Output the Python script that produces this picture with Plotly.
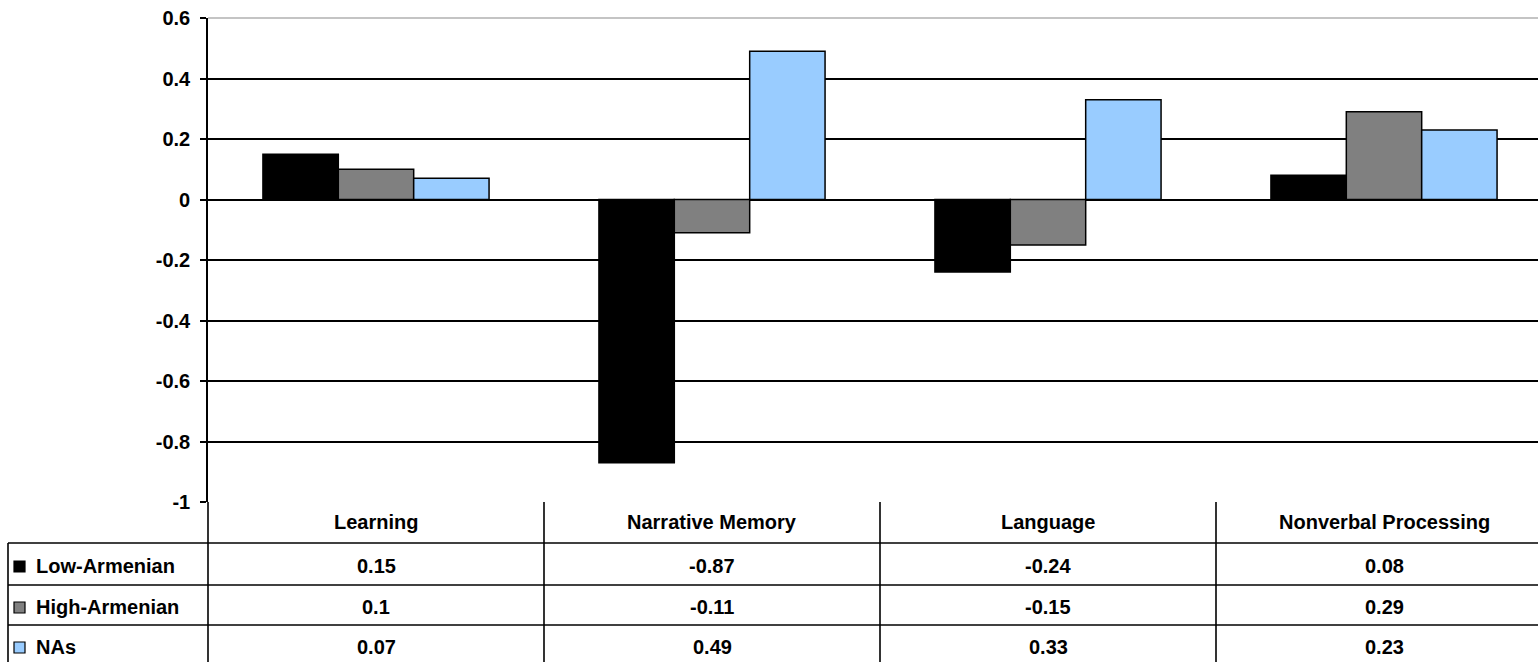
import plotly.graph_objects as go

# Chart data
categories = ["Learning", "Narrative Memory", "Language", "Nonverbal Processing"]
series_names = ["Low-Armenian", "High-Armenian", "NAs"]
low_armenian = [0.15, -0.87, -0.24, 0.08]
high_armenian = [0.1, -0.11, -0.15, 0.29]
nas = [0.07, 0.49, 0.33, 0.23]
series_colors = ["#000000", "#808080", "#99CCFF"]
y_ticks = [0.6, 0.4, 0.2, 0, -0.2, -0.4, -0.6, -0.8, -1]
y_tick_labels = ["0.6", "0.4", "0.2", "0", "-0.2", "-0.4", "-0.6", "-0.8", "-1"]

series_values = [low_armenian, high_armenian, nas]

W, H = 1538, 662
ML, MT, MB = 208, 18, 160
PW = W - ML
PH = H - MT - MB
FONT = "Liberation Sans, Arial, sans-serif"
LW = 1.6


def fx(px):
    return (px - ML) / PW


def fy(py):
    return (H - MB - py) / PH


fig = go.Figure()
for name, vals, col in zip(series_names, series_values, series_colors):
    fig.add_trace(go.Bar(
        x=categories, y=vals, name=name,
        marker=dict(color=col, line=dict(color="#000000", width=1.5)),
        showlegend=False, hoverinfo="skip",
    ))

shapes = []
# light top border of the plot area
shapes.append(dict(type="line", xref="paper", yref="paper", x0=0, x1=1, y0=1, y1=1,
                   line=dict(color="#ffffff", width=3), layer="below"))
shapes.append(dict(type="line", xref="paper", yref="paper", x0=0, x1=1, y0=fy(18), y1=fy(18),
                   line=dict(color="#c4c4c4", width=1.8), layer="below"))

# data table grid
row_lines = [543, 585, 625]
for py in row_lines:
    shapes.append(dict(type="line", xref="paper", yref="paper", x0=fx(8), x1=fx(1560),
                       y0=fy(py), y1=fy(py), line=dict(color="#000000", width=LW)))
shapes.append(dict(type="line", xref="paper", yref="paper", x0=fx(8), x1=fx(8),
                   y0=fy(543), y1=fy(680), line=dict(color="#000000", width=LW)))
shapes.append(dict(type="line", xref="paper", yref="paper", x0=0, x1=0,
                   y0=0, y1=fy(680), line=dict(color="#000000", width=LW)))
col_w = 336
for k in range(1, len(categories)):
    xp = ML + k * col_w
    shapes.append(dict(type="line", xref="paper", yref="paper", x0=fx(xp), x1=fx(xp),
                       y0=0, y1=fy(680), line=dict(color="#000000", width=LW)))

row_text_y = [566, 607, 647]
# legend keys in the table's first column
for col, py in zip(series_colors, row_text_y):
    shapes.append(dict(type="rect", xref="paper", yref="paper",
                       x0=fx(14), x1=fx(25), y0=fy(py - 5), y1=fy(py + 6),
                       fillcolor=col, line=dict(color="#000000", width=1.2)))

annotations = []
tfont = dict(family=FONT, size=20, color="#000000", weight="bold")
for cat in categories:
    annotations.append(dict(x=cat, xref="x", y=fy(522), yref="paper", text=cat,
                            showarrow=False, xanchor="center", yanchor="middle", font=tfont))
for name, vals, py in zip(series_names, series_values, row_text_y):
    annotations.append(dict(x=fx(34), xref="paper", y=fy(py), yref="paper", text=name,
                            showarrow=False, xanchor="left", yanchor="middle", font=tfont))
    for cat, v in zip(categories, vals):
        annotations.append(dict(x=cat, xref="x", y=fy(py), yref="paper", text=str(v),
                                showarrow=False, xanchor="center", yanchor="middle", font=tfont))

fig.update_layout(
    width=W, height=H,
    margin=dict(l=ML, r=0, t=MT, b=MB, pad=0),
    paper_bgcolor="#ffffff", plot_bgcolor="#ffffff",
    barmode="group", bargap=0.327, bargroupgap=0,
    shapes=shapes, annotations=annotations,
    xaxis=dict(type="category", range=[-0.5, -0.5 + PW / col_w], showticklabels=False,
               showgrid=False, zeroline=False, showline=False, ticks=""),
    yaxis=dict(range=[-1, 0.6], tickvals=y_ticks, ticktext=y_tick_labels,
               showgrid=True, gridcolor="#000000", gridwidth=1.5, zeroline=False,
               showline=True, linecolor="#000000", linewidth=LW,
               ticks="outside", ticklen=6, tickcolor="#000000", tickwidth=LW,
               ticklabelstandoff=6,
               tickfont=dict(family=FONT, size=20, color="#000000", weight="bold")),
)

fig.write_html("out.html")
